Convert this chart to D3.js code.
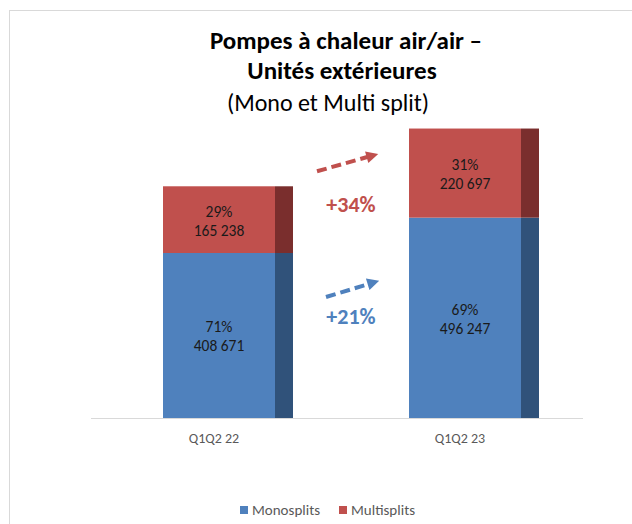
<!DOCTYPE html>
<html>
<head>
<meta charset="utf-8">
<title>Pompes à chaleur air/air</title>
<style>
body { margin: 0; background: #fff; }
text { font-family: Carlito, Calibri, Lato, sans-serif; }
</style>
</head>
<body>
<script src="https://cdn.jsdelivr.net/npm/d3@7"></script>
<script>
// data
var categories = ["Q1Q2 22", "Q1Q2 23"];
var monosplits = [408671, 496247];
var multisplits = [165238, 220697];
var seriesNames = ["Monosplits", "Multisplits"];

var width = 632, height = 524;

var colors = {
  mono: "#4F81BD", monoSide: "#30527A",
  multi: "#C0504D", multiSide: "#7A2E2D"
};

var fr = d3.formatLocale({decimal: ",", thousands: " ", grouping: [3], currency: ["", " €"]});
var fmt = fr.format(",d");

var svg = d3.select("body").append("svg")
    .attr("width", width)
    .attr("height", height);

// chart frame
svg.append("rect")
    .attr("x", 9.5).attr("y", 10.5)
    .attr("width", width + 10).attr("height", height + 10)
    .attr("fill", "#fff")
    .attr("stroke", "#d9d9d9");

var x = d3.scaleBand().domain(categories).range([91, 583]);
var y = d3.scaleLinear().domain([0, 800000]).range([418, 95]);

var frontW = 112, sideW = 18, offset = 72;

var rows = categories.map(function(c, i) {
  var tot = monosplits[i] + multisplits[i];
  return {cat: c, mono: monosplits[i], multi: multisplits[i], total: tot};
});

// title
var title = svg.append("g").attr("text-anchor", "middle").attr("fill", "#000");
title.append("text").attr("x", 346).attr("y", 49)
    .style("font-size", "25px").style("font-weight", "bold")
    .text("Pompes à chaleur air/air –");
title.append("text").attr("x", 342).attr("y", 79)
    .style("font-size", "25px").style("font-weight", "bold")
    .text("Unités extérieures");
title.append("text").attr("x", 328).attr("y", 111)
    .style("font-size", "24px")
    .text("(Mono et Multi split)");

// axis line
svg.append("line")
    .attr("x1", x.range()[0]).attr("x2", x.range()[1])
    .attr("y1", y(0) + 0.5).attr("y2", y(0) + 0.5)
    .attr("stroke", "#d9d9d9");

var bars = svg.selectAll(".bar")
    .data(rows)
    .enter().append("g")
    .attr("class", "bar")
    .attr("transform", function(d) { return "translate(" + (x(d.cat) + offset) + ",0)"; });

// mono segment
bars.append("rect")
    .attr("x", 0).attr("width", frontW)
    .attr("y", function(d) { return y(d.mono); })
    .attr("height", function(d) { return y(0) - y(d.mono); })
    .attr("fill", colors.mono);
bars.append("rect")
    .attr("x", frontW).attr("width", sideW)
    .attr("y", function(d) { return y(d.mono); })
    .attr("height", function(d) { return y(0) - y(d.mono); })
    .attr("fill", colors.monoSide);

// multi segment
bars.append("rect")
    .attr("x", 0).attr("width", frontW)
    .attr("y", function(d) { return y(d.total); })
    .attr("height", function(d) { return y(d.mono) - y(d.total); })
    .attr("fill", colors.multi);
bars.append("rect")
    .attr("x", frontW).attr("width", sideW)
    .attr("y", function(d) { return y(d.total); })
    .attr("height", function(d) { return y(d.mono) - y(d.total); })
    .attr("fill", colors.multiSide);

// data labels
function addLabel(sel, lo, hi, val) {
  var g = sel.append("g").attr("text-anchor", "middle").attr("fill", "#1a1a1a")
      .style("font-size", "15.5px");
  g.append("text")
      .attr("x", frontW / 2)
      .attr("y", function(d) { return (y(lo(d)) + y(hi(d))) / 2 - 3; })
      .text(function(d) { return Math.round(val(d) / d.total * 100) + "%"; });
  g.append("text")
      .attr("x", frontW / 2)
      .attr("y", function(d) { return (y(lo(d)) + y(hi(d))) / 2 + 16; })
      .text(function(d) { return fmt(val(d)); });
}
addLabel(bars, function() { return 0; }, function(d) { return d.mono; }, function(d) { return d.mono; });
addLabel(bars, function(d) { return d.mono; }, function(d) { return d.total; }, function(d) { return d.multi; });

// category labels
svg.selectAll(".cat")
    .data(categories)
    .enter().append("text")
    .attr("class", "cat")
    .attr("x", function(d) { return x(d) + x.bandwidth() / 2; })
    .attr("y", 443)
    .attr("text-anchor", "middle")
    .attr("fill", "#595959")
    .style("font-size", "14px")
    .text(function(d) { return d; });

// growth arrows
var defs = svg.append("defs");
[["red", colors.multi], ["blue", colors.mono]].forEach(function(m) {
  defs.append("marker")
      .attr("id", "head-" + m[0])
      .attr("viewBox", "0 0 10 10")
      .attr("refX", 2).attr("refY", 5)
      .attr("markerWidth", 3.2).attr("markerHeight", 3)
      .attr("orient", "auto")
      .append("path")
      .attr("d", "M0,0L10,5L0,10Z")
      .attr("fill", m[1]);
});

var r0 = rows[0], r1 = rows[1];
var gapL = x(r0.cat) + offset + frontW + sideW, gapR = x(r1.cat) + offset;
var growth = [
  {name: "multi", color: colors.multi, head: "red",
   pct: r1.multi / r0.multi - 1,
   x1: gapL + 24, y1: y(r0.total) - 15, x2: gapR - 40, y2: y(r1.total) + 28, ty: 212},
  {name: "mono", color: colors.mono, head: "blue",
   pct: r1.mono / r0.mono - 1,
   x1: gapL + 33, y1: y(r0.mono) + 44, x2: gapR - 39, y2: y(r1.mono) + 66, ty: 324}
];

svg.selectAll(".arrow")
    .data(growth)
    .enter().append("line")
    .attr("class", "arrow")
    .attr("x1", function(d) { return d.x1; })
    .attr("y1", function(d) { return d.y1; })
    .attr("x2", function(d) { return d.x2; })
    .attr("y2", function(d) { return d.y2; })
    .attr("stroke", function(d) { return d.color; })
    .attr("stroke-width", 4)
    .attr("stroke-dasharray", "10 5")
    .attr("marker-end", function(d) { return "url(#head-" + d.head + ")"; });

svg.selectAll(".growth")
    .data(growth)
    .enter().append("text")
    .attr("class", "growth")
    .attr("x", (gapL + gapR) / 2)
    .attr("y", function(d) { return d.ty; })
    .attr("text-anchor", "middle")
    .attr("fill", function(d) { return d.color; })
    .style("font-size", "22px")
    .style("font-weight", "bold")
    .text(function(d) { return "+" + Math.round(d.pct * 100) + "%"; });

// legend
var legend = svg.append("g").attr("transform", "translate(240,506)");
var legItems = [{name: seriesNames[0], color: colors.mono, dx: 0},
                {name: seriesNames[1], color: colors.multi, dx: 99}];
var li = legend.selectAll("g").data(legItems).enter().append("g")
    .attr("transform", function(d) { return "translate(" + d.dx + ",0)"; });
li.append("rect").attr("width", 8).attr("height", 8).attr("fill", function(d) { return d.color; });
li.append("text").attr("x", 12).attr("y", 8.5)
    .attr("fill", "#595959")
    .style("font-size", "15px")
    .text(function(d) { return d.name; });
</script>
</body>
</html>
